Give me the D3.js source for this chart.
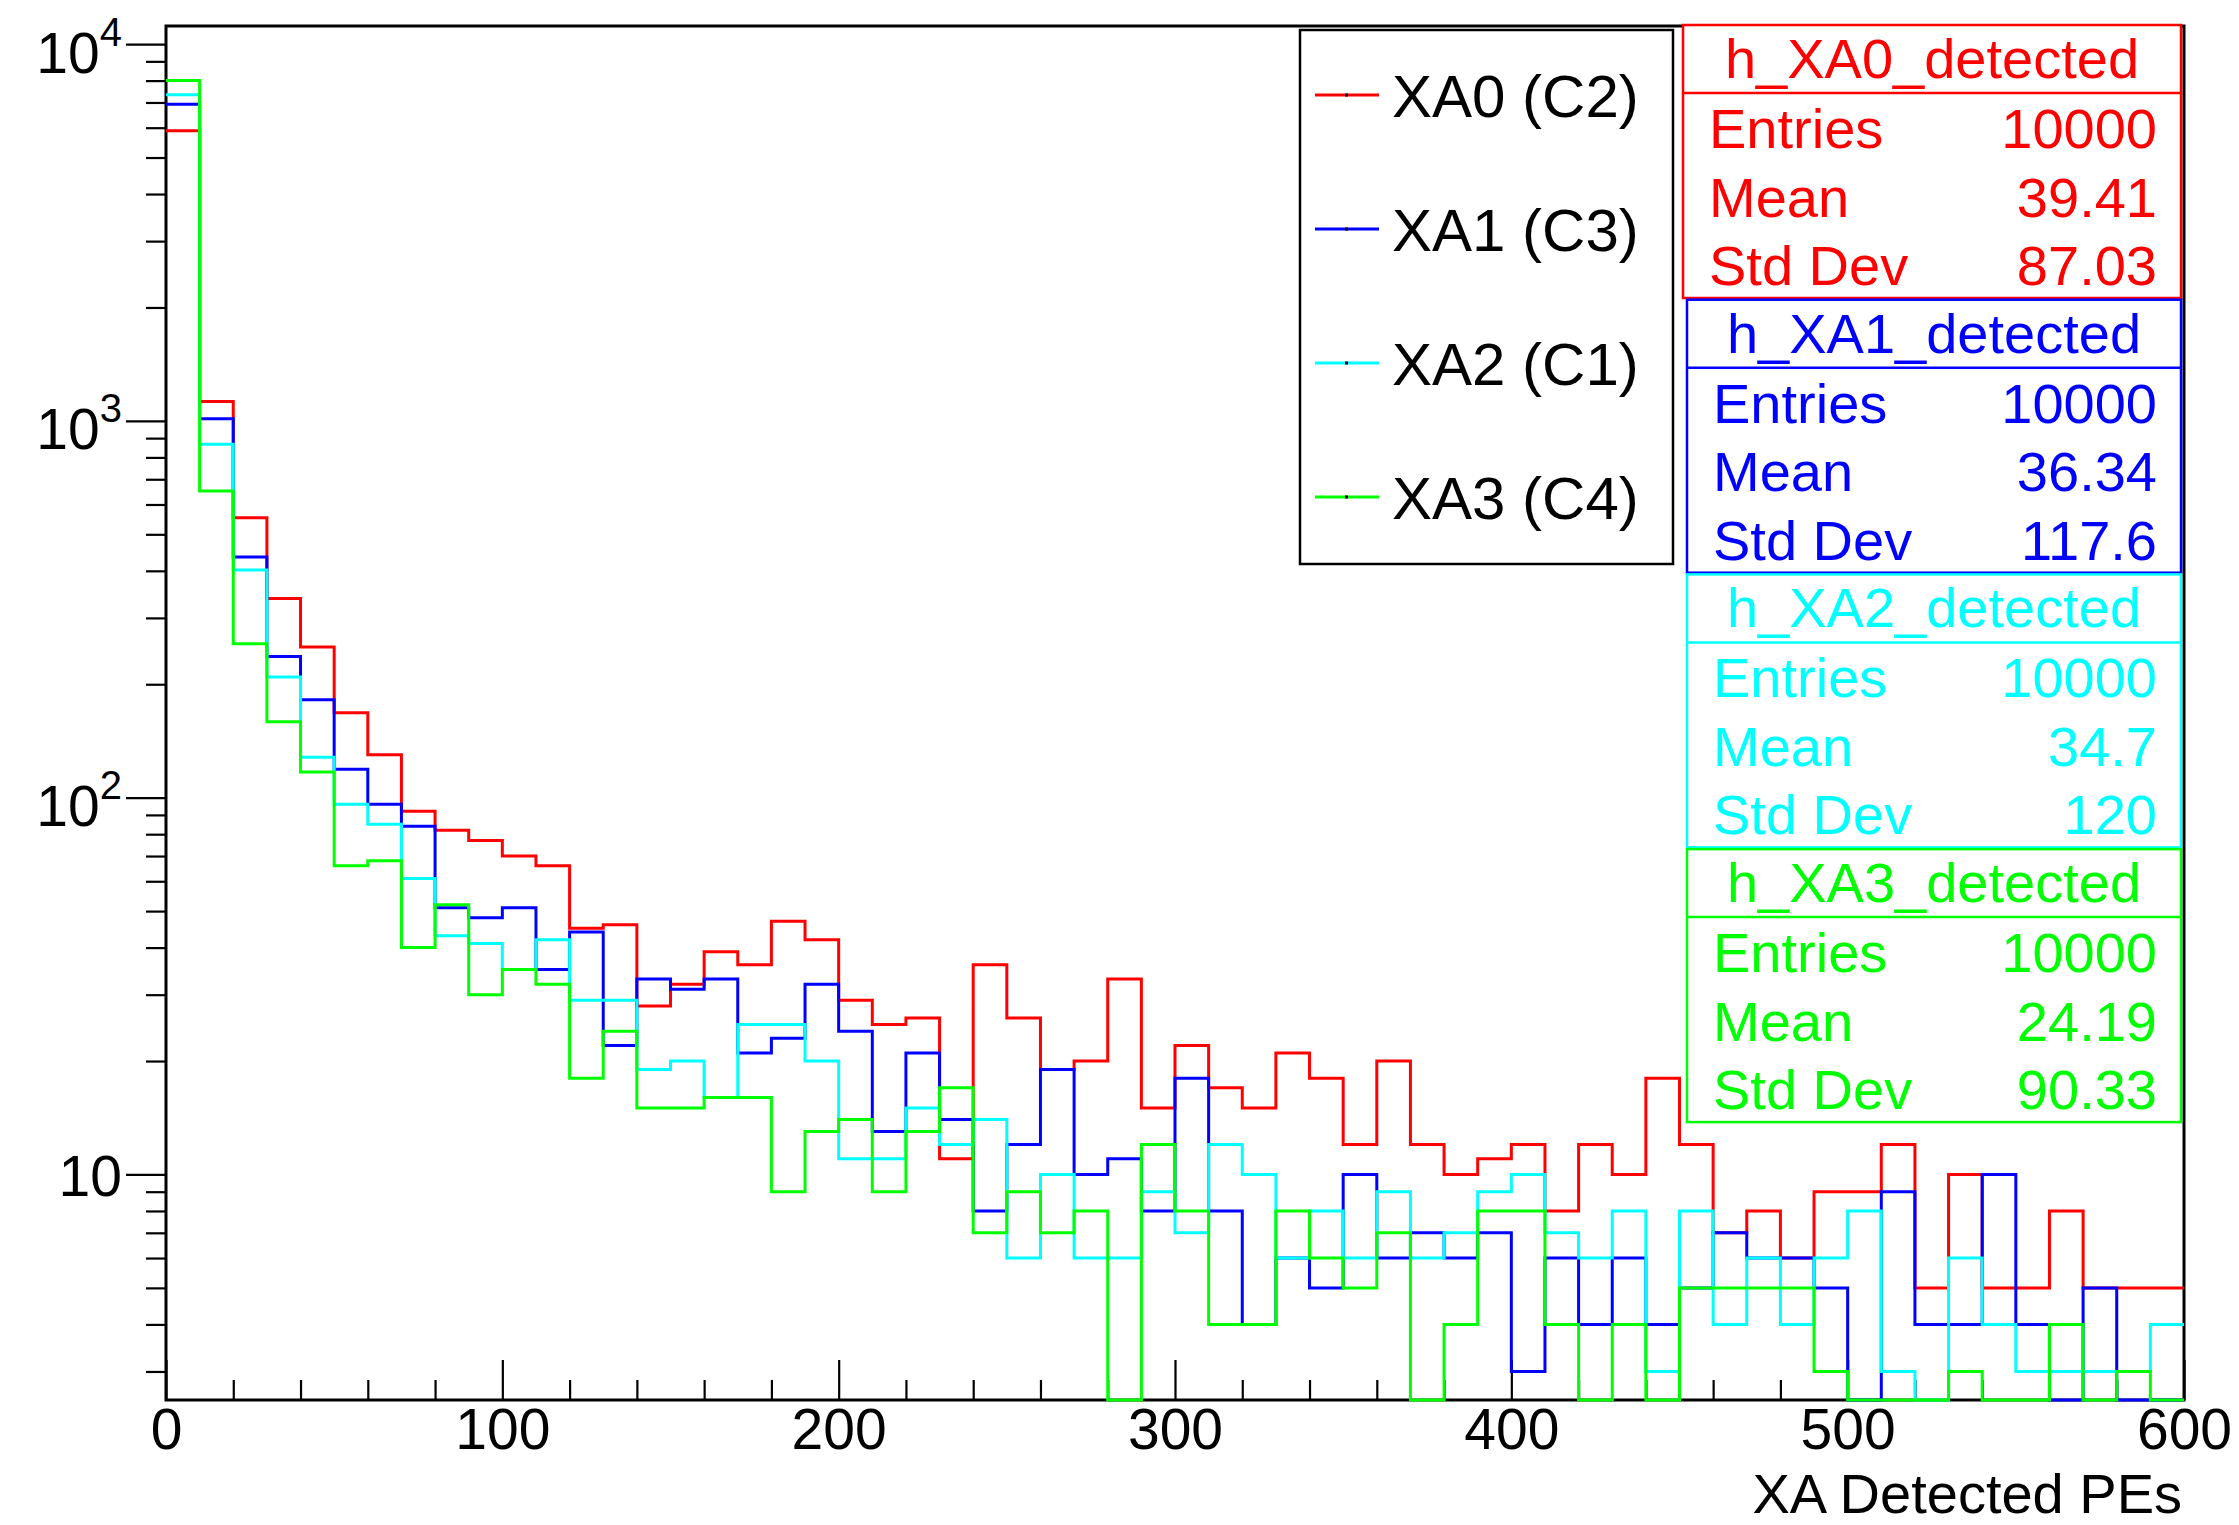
<!DOCTYPE html>
<html>
<head>
<meta charset="utf-8">
<script src="https://cdn.jsdelivr.net/npm/d3@7/dist/d3.min.js"></script>
<style>
  html, body { margin: 0; padding: 0; background: #fff; }
  svg { display: block; font-family: 'Liberation Sans', Arial, Helvetica, sans-serif; }
</style>
</head>
<body>
<div class="viewer"></div>
<script>
'use strict';

// binning of the histograms: 60 bins of 10 PEs starting at 0
var binLow = 0,
    binWidth = 10;

// bin contents (10 PE bins, 0..600)
var xa0 = [5890, 1125, 553, 338, 251, 168, 130, 92, 82, 77,
           70, 66, 45, 46, 28, 32, 39, 36, 47, 42,
           29, 25, 26, 11, 36, 26, 19, 20, 33, 15,
           22, 17, 15, 21, 18, 12, 20, 12, 10, 11,
           12, 8, 12, 10, 18, 12, 7, 8, 6, 9,
           9, 12, 5, 10, 5, 5, 8, 5, 5, 5];
var xa1 = [6920, 1013, 435, 237, 182, 119, 96, 84, 51, 48,
           51, 35, 44, 22, 33, 31, 33, 21, 23, 32,
           24, 13, 21, 14, 8, 12, 19, 10, 11, 8,
           18, 8, 4, 6, 5, 10, 6, 7, 6, 7,
           3, 6, 4, 6, 4, 5, 7, 6, 6, 5,
           0, 9, 4, 4, 10, 4, 0, 5, 0, 0];
var xa2 = [7340, 867, 402, 209, 128, 96, 85, 61, 43, 41,
           35, 42, 29, 29, 19, 20, 16, 25, 25, 20,
           11, 11, 15, 12, 14, 6, 10, 6, 6, 9,
           7, 12, 10, 6, 8, 6, 9, 6, 7, 9,
           10, 7, 6, 8, 3, 8, 4, 6, 4, 6,
           8, 3, 0, 6, 4, 3, 3, 3, 3, 4];
var xa3 = [8010, 652, 256, 159, 117, 66, 68, 40, 52, 30,
           35, 32, 18, 24, 15, 15, 16, 16, 9, 13,
           14, 9, 13, 17, 7, 9, 7, 8, 0, 12,
           8, 4, 4, 8, 6, 5, 7, 0, 4, 8,
           8, 4, 0, 4, 0, 5, 5, 5, 5, 3,
           0, 0, 0, 3, 0, 0, 4, 0, 3, 0];

var seriesNames = ['XA0 (C2)', 'XA1 (C3)', 'XA2 (C1)', 'XA3 (C4)'];
var seriesColors = ['#ff0000', '#0000ff', '#00ffff', '#00ff00'];
var histNames = ['h_XA0_detected', 'h_XA1_detected', 'h_XA2_detected', 'h_XA3_detected'];
var statEntries = ['10000', '10000', '10000', '10000'];
var statMeans = ['39.41', '36.34', '34.7', '24.19'];
var statStdDevs = ['87.03', '117.6', '120', '90.33'];

var xTickLabels = [0, 100, 200, 300, 400, 500, 600];
var yDecades = [10, 100, 1000, 10000];
var xTitle = 'XA Detected PEs';

var W = 2239, H = 1525,
    frame = { left: 166, right: 2184, top: 26, bottom: 1400 };

var svg = d3.select('.viewer')
  .append('svg')
  .attr('width', W)
  .attr('height', H);

svg.append('rect').attr('width', W).attr('height', H).attr('fill', '#fff');

var x = d3.scaleLinear().domain([0, 600]).range([frame.left, frame.right]);
var y = d3.scaleLog().domain([2.52, 11170]).range([frame.bottom, frame.top]).clamp(true);

// x axis: minor ticks every 20, major every 100, all pointing up into the frame
var xMinor = d3.range(0, 601, 20).filter(function(v) { return v % 100 !== 0; });

svg.append('g')
  .attr('transform', 'translate(0,' + frame.bottom + ')')
  .call(d3.axisBottom(x).tickValues(xMinor).tickSize(-20).tickSizeOuter(0).tickFormat(''))
  .call(function(g) { g.select('.domain').remove(); });

var xAxis = svg.append('g')
  .attr('transform', 'translate(0,' + frame.bottom + ')')
  .call(d3.axisBottom(x).tickValues(xTickLabels).tickSize(-40).tickSizeOuter(0).tickPadding(9));
xAxis.select('.domain').remove();
xAxis.selectAll('.tick text').attr('font-size', 57).attr('font-family', null).attr('fill', '#000');

// y axis: log, ticks pointing out to the left
var yMinor = [];
[1, 10, 100, 1000].forEach(function(d) {
  for (var k = 2; k <= 9; k++) {
    if (k * d >= 2.52 && k * d <= 11170) yMinor.push(k * d);
  }
});

svg.append('g')
  .attr('transform', 'translate(' + frame.left + ',0)')
  .call(d3.axisLeft(y).tickValues(yMinor).tickSize(20).tickSizeOuter(0).tickFormat(''))
  .call(function(g) { g.select('.domain').remove(); });

var yAxis = svg.append('g')
  .attr('transform', 'translate(' + frame.left + ',0)')
  .call(d3.axisLeft(y).tickValues(yDecades).tickSize(40).tickSizeOuter(0).tickPadding(4).tickFormat(''));
yAxis.select('.domain').remove();

// 10, 10^2, 10^3, 10^4 with a raised exponent
yAxis.selectAll('.tick text').each(function(d) {
  var t = d3.select(this).attr('font-size', 57).attr('font-family', null).attr('fill', '#000');
  var p = Math.round(Math.log10(d));
  if (p === 1) {
    t.attr('dy', 21).text('10');
  } else {
    t.attr('dy', 28).text('10');
    t.append('tspan').attr('font-size', 40).attr('dy', -27).text(p);
  }
});

svg.selectAll('.tick line').attr('stroke', '#000').attr('stroke-width', 2.2);

// frame
svg.append('rect')
  .attr('x', frame.left).attr('y', frame.top)
  .attr('width', frame.right - frame.left)
  .attr('height', frame.bottom - frame.top)
  .attr('fill', 'none')
  .attr('stroke', '#000')
  .attr('stroke-width', 3);

svg.append('text')
  .attr('x', frame.right - 2)
  .attr('y', 1513)
  .attr('text-anchor', 'end')
  .attr('font-size', 56)
  .text(xTitle);

// histograms as step lines, zero bins fall onto the bottom of the frame
svg.append('clipPath').attr('id', 'plotclip')
  .append('rect')
  .attr('x', frame.left).attr('y', frame.top)
  .attr('width', frame.right - frame.left)
  .attr('height', frame.bottom - frame.top + 2);

var stepLine = d3.line()
  .x(function(d) { return x(d[0]); })
  .y(function(d) { return y(Math.max(d[1], 1)); });

function steps(values) {
  var pts = [];
  values.forEach(function(v, i) {
    var lo = binLow + i * binWidth;
    pts.push([lo, v], [lo + binWidth, v]);
  });
  return pts;
}

[xa0, xa1, xa2, xa3].forEach(function(values, i) {
  svg.append('path')
    .attr('clip-path', 'url(#plotclip)')
    .attr('d', stepLine(steps(values)))
    .attr('fill', 'none')
    .attr('stroke', seriesColors[i])
    .attr('stroke-width', 3);
});

// legend
var legend = svg.append('g');
legend.append('rect')
  .attr('x', 1300).attr('y', 30)
  .attr('width', 373).attr('height', 534)
  .attr('fill', '#fff')
  .attr('stroke', '#000')
  .attr('stroke-width', 2.5);

seriesNames.forEach(function(name, i) {
  var ly = 95 + i * 134;
  legend.append('line')
    .attr('x1', 1315).attr('x2', 1379)
    .attr('y1', ly).attr('y2', ly)
    .attr('stroke', seriesColors[i])
    .attr('stroke-width', 3);
  legend.append('rect')
    .attr('x', 1345).attr('y', ly - 1.5)
    .attr('width', 3).attr('height', 3)
    .attr('fill', '#000');
  legend.append('text')
    .attr('x', 1392).attr('y', ly)
    .attr('dy', '0.36em')
    .attr('font-size', 60)
    .text(name);
});

// stat boxes stacked down the right side
histNames.forEach(function(name, i) {
  var top = 25 + i * 274.7,
      left = i === 0 ? 1683 : 1687,
      right = 2181,
      c = seriesColors[i],
      g = svg.append('g').attr('fill', c);

  g.append('rect')
    .attr('x', left).attr('y', top)
    .attr('width', right - left).attr('height', 273)
    .attr('fill', '#fff')
    .attr('stroke', c)
    .attr('stroke-width', 2.5);
  g.append('line')
    .attr('x1', left).attr('x2', right)
    .attr('y1', top + 68).attr('y2', top + 68)
    .attr('stroke', c)
    .attr('stroke-width', 2.5);

  g.append('text')
    .attr('x', (left + right) / 2).attr('y', top + 53)
    .attr('text-anchor', 'middle')
    .attr('font-size', 56)
    .text(name);

  var rows = [['Entries', statEntries[i]], ['Mean', statMeans[i]], ['Std Dev', statStdDevs[i]]];
  rows.forEach(function(r, j) {
    var by = top + 123 + j * 68.5;
    g.append('text').attr('x', left + 26).attr('y', by).attr('font-size', 56).text(r[0]);
    g.append('text').attr('x', 2157).attr('y', by).attr('text-anchor', 'end').attr('font-size', 56).text(r[1]);
  });
});
</script>
</body>
</html>
